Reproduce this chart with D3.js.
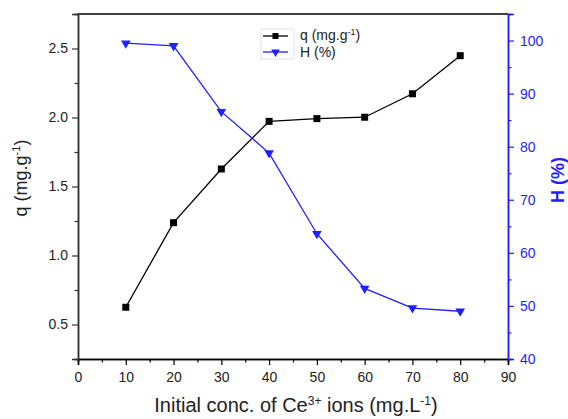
<html>
<head>
  <meta charset="UTF-8">
  <script src="https://d3js.org/d3.v7.min.js"></script>
  <style>
    body { margin: 0; background: white; }
    text { font-family: "Liberation Sans", Arial, sans-serif; }
  </style>
</head>
<body>
  <svg id="chart" width="568" height="419"></svg>
  <script>
    // data
    const conc = [10, 20, 30, 40, 50, 60, 70, 80];
    const qValues = [0.625, 1.238, 1.627, 1.972, 1.992, 2.002, 2.172, 2.448];
    const hValues = [99.5, 99.0, 86.6, 78.8, 63.6, 53.3, 49.6, 49.0];
    const xTicks = [0, 10, 20, 30, 40, 50, 60, 70, 80, 90];
    const qTicks = [0.5, 1.0, 1.5, 2.0, 2.5];
    const hTicks = [40, 50, 60, 70, 80, 90, 100];

    const svg = d3.select("svg#chart");
    const blue = "#1f1fff";
    const margins = { top: 14, right: 60, bottom: 60, left: 78 };
    const width = 568, height = 419;
    const graphWidth = width - margins.left - margins.right;
    const graphHeight = height - margins.top - margins.bottom;

    const xScale = d3.scaleLinear().domain([0, 90]).range([margins.left, margins.left + graphWidth]);
    const qScale = d3.scaleLinear().domain([0.25, 2.75]).range([margins.top + graphHeight, margins.top]);
    const hScale = d3.scaleLinear().domain([40, 105]).range([margins.top + graphHeight, margins.top]);

    // top frame line
    svg.append("line")
      .attr("x1", margins.left).attr("x2", margins.left + graphWidth)
      .attr("y1", margins.top).attr("y2", margins.top)
      .attr("stroke", "black").attr("stroke-width", 1.5);

    // bottom axis (major + minor ticks)
    const bottom = svg.append("g").attr("transform", `translate(0,${margins.top + graphHeight})`);
    bottom.call(d3.axisBottom(xScale).tickValues(d3.range(5, 90, 10)).tickSize(3.5).tickFormat(""));
    bottom.append("g").call(d3.axisBottom(xScale).tickValues(xTicks).tickSize(6).tickPadding(7).tickFormat(d3.format("d")));
    bottom.selectAll("path.domain").attr("stroke", "black").attr("stroke-width", 1.5);
    bottom.selectAll("line").attr("stroke", "black").attr("stroke-width", 1.2);
    bottom.selectAll("text").attr("font-size", 14).attr("fill", "#222");

    // left axis
    const left = svg.append("g").attr("transform", `translate(${margins.left},0)`);
    left.call(d3.axisLeft(qScale).tickValues(d3.range(0.25, 2.76, 0.5)).tickSize(3.5).tickFormat(""));
    left.append("g").call(d3.axisLeft(qScale).tickValues(qTicks).tickSize(6).tickPadding(4).tickFormat(d3.format(".1f")));
    left.selectAll("path.domain").attr("stroke", "#333").attr("stroke-width", 1.5);
    left.selectAll("line").attr("stroke", "#333").attr("stroke-width", 1.2);
    left.selectAll("text").attr("font-size", 14).attr("fill", "#222");

    // right axis
    const right = svg.append("g").attr("transform", `translate(${margins.left + graphWidth},0)`);
    right.call(d3.axisRight(hScale).tickValues(d3.range(45, 106, 10)).tickSize(3.5).tickFormat(""));
    right.append("g").call(d3.axisRight(hScale).tickValues(hTicks).tickSize(6).tickPadding(6).tickFormat(d3.format("d")));
    right.selectAll("path.domain").attr("stroke", blue).attr("stroke-width", 1.5);
    right.selectAll("line").attr("stroke", blue).attr("stroke-width", 1.2);
    right.selectAll("text").attr("font-size", 14).attr("fill", blue);

    // axis titles
    const xTitle = svg.append("text")
      .attr("x", 296).attr("y", 412)
      .attr("text-anchor", "middle").attr("font-size", 20).attr("fill", "#222");
    xTitle.append("tspan").text("Initial conc. of Ce");
    xTitle.append("tspan").attr("dy", -7).attr("font-size", 12).text("3+");
    xTitle.append("tspan").attr("dy", 7).text(" ions (mg.L");
    xTitle.append("tspan").attr("dy", -7).attr("font-size", 12).text("-1");
    xTitle.append("tspan").attr("dy", 7).text(")");

    const yTitle = svg.append("text")
      .attr("transform", "translate(27,178) rotate(-90)")
      .attr("text-anchor", "middle").attr("font-size", 18).attr("fill", "#222");
    yTitle.append("tspan").text("q (mg.g");
    yTitle.append("tspan").attr("dy", -7).attr("font-size", 11).text("-1");
    yTitle.append("tspan").attr("dy", 7).text(")");

    svg.append("text")
      .attr("transform", "translate(564,180) rotate(-90)")
      .attr("text-anchor", "middle").attr("font-size", 18).attr("font-weight", "bold")
      .attr("fill", blue).text("H (%)");

    // q series
    const qPts = conc.map((c, i) => [xScale(c), qScale(qValues[i])]);
    svg.append("path").datum(qPts)
      .attr("d", d3.line()).attr("fill", "none").attr("stroke", "black").attr("stroke-width", 1.3);
    svg.selectAll("rect.q").data(qPts).join("rect").attr("class", "q")
      .attr("x", d => d[0] - 3.5).attr("y", d => d[1] - 3.5)
      .attr("width", 7).attr("height", 7).attr("fill", "black");

    // H series
    const hPts = conc.map((c, i) => [xScale(c), hScale(hValues[i])]);
    const tri = d3.symbol().type(d3.symbolTriangle).size(40);
    svg.append("path").datum(hPts)
      .attr("d", d3.line()).attr("fill", "none").attr("stroke", blue).attr("stroke-width", 1.3);
    svg.selectAll("path.h").data(hPts).join("path").attr("class", "h")
      .attr("d", tri)
      .attr("transform", d => `translate(${d[0]},${d[1]}) rotate(180)`)
      .attr("fill", blue);

    // legend
    const legend = svg.append("g").attr("transform", "translate(261,29)");
    legend.append("rect").attr("width", 33).attr("height", 30)
      .attr("fill", "none").attr("stroke", "#dde0f5").attr("stroke-width", 1);
    [["black", "q"], [blue, "H"]].forEach((s, i) => {
      const y = 7 + i * 16;
      legend.append("line").attr("x1", 2).attr("x2", 27).attr("y1", y).attr("y2", y)
        .attr("stroke", s[0]).attr("stroke-width", 1.3);
      if (s[1] === "q") {
        legend.append("rect").attr("x", 11.5).attr("y", y - 3).attr("width", 6).attr("height", 6).attr("fill", "black");
      } else {
        legend.append("path").attr("d", d3.symbol().type(d3.symbolTriangle).size(32))
          .attr("transform", `translate(14.5,${y}) rotate(180)`).attr("fill", blue);
      }
    });
    const l1 = legend.append("text").attr("x", 39).attr("y", 11).attr("font-size", 14).attr("fill", "#222");
    l1.append("tspan").text("q (mg.g");
    l1.append("tspan").attr("dy", -5).attr("font-size", 9).text("-1");
    l1.append("tspan").attr("dy", 5).text(")");
    legend.append("text").attr("x", 39).attr("y", 28).attr("font-size", 14).attr("fill", "#222").text("H (%)");
  </script>
</body>
</html>
